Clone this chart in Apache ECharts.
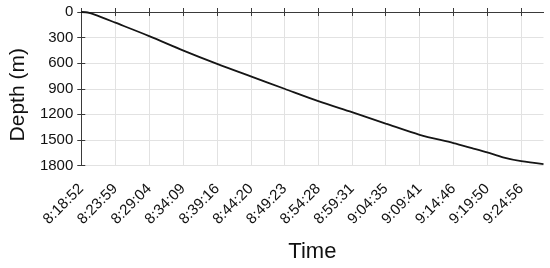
<!DOCTYPE html>
<html>
<head>
<meta charset="utf-8">
<script src="https://cdn.jsdelivr.net/npm/echarts@6/dist/echarts.min.js"></script>
<style>
  html, body { margin: 0; padding: 0; background: #fff; }
  #chart { width: 550px; height: 268px; }
</style>
</head>
<body>
<div id="chart"></div>
<script>
// tick labels on the time axis (clock time)
const tickLabels = ["8:18:52", "8:23:59", "8:29:04", "8:34:09", "8:39:16", "8:44:20", "8:49:23",
  "8:54:28", "8:59:31", "9:04:35", "9:09:41", "9:14:46", "9:19:50", "9:24:56"];
// elapsed seconds since 8:18:52 and depth (m)
const elapsed = [0, 40, 80, 120, 307, 612, 921, 1224, 1528, 1831, 2136, 2439, 2743, 3049, 3354, 3520, 3658, 3800, 3964, 4165];
const depth = [0, 3, 14, 30, 125, 282, 452, 608, 755, 900, 1045, 1175, 1308, 1440, 1537, 1596, 1646, 1704, 1750, 1785];

const startSec = 8 * 3600 + 18 * 60 + 52;
function toSec(s) {
  const p = s.split(":").map(Number);
  return p[0] * 3600 + p[1] * 60 + p[2] - startSec;
}
const tickSecs = tickLabels.map(toSec);
const labelMap = {};
tickSecs.forEach(function (v, i) { labelMap[v] = tickLabels[i]; });

const font = "Liberation Sans";
const frame = "#3a3a3a";
const gridColor = "#e2e2e2";

const chart = echarts.init(document.getElementById("chart"));
const option = {
  animation: false,
  textStyle: { fontFamily: font },
  grid: { left: 72.5, right: 6.5, top: 12, bottom: 102.5, containLabel: false },
  xAxis: [{
    type: "value",
    min: 0,
    max: 4165,
    name: "Time",
    nameLocation: "middle",
    nameGap: 75,
    nameTextStyle: { fontSize: 22, color: "#111", fontFamily: font },
    axisLine: { show: true, lineStyle: { color: frame, width: 1 } },
    axisTick: { show: true, inside: true, length: 4, customValues: tickSecs, lineStyle: { color: frame } },
    axisLabel: {
      customValues: tickSecs,
      rotate: 45,
      fontSize: 15,
      color: "#111",
      margin: 21,
      formatter: function (v) { return labelMap[v] || ""; }
    },
    splitLine: { show: true, lineStyle: { color: gridColor, width: 1 } }
  }, {
    type: "value",
    position: "top",
    min: 0,
    max: 4165,
    axisLine: { show: true, lineStyle: { color: frame, width: 1 } },
    axisTick: { show: true, inside: true, length: 4, customValues: tickSecs, lineStyle: { color: frame } },
    axisLabel: { show: false, customValues: tickSecs },
    splitLine: { show: false }
  }],
  yAxis: [{
    type: "value",
    inverse: true,
    min: 0,
    max: 1800,
    interval: 300,
    name: "Depth (m)",
    nameLocation: "middle",
    nameGap: 46,
    nameTextStyle: { fontSize: 21, color: "#111", fontFamily: font, padding: [0, 0, 0, -12] },
    axisLine: { show: true, lineStyle: { color: frame, width: 1 } },
    axisTick: { show: true, inside: true, length: 4, lineStyle: { color: frame } },
    axisLabel: { fontSize: 15, color: "#111", margin: 8, formatter: function (v) { return String(v); } },
    splitLine: { show: true, lineStyle: { color: gridColor, width: 1 } }
  }, {
    type: "value",
    position: "right",
    inverse: true,
    min: 0,
    max: 1800,
    interval: 300,
    axisLine: { show: true, lineStyle: { color: frame, width: 1 } },
    axisTick: { show: true, inside: true, length: 4, lineStyle: { color: frame } },
    axisLabel: { show: false },
    splitLine: { show: false }
  }],
  series: [{
    type: "line",
    xAxisIndex: 0,
    yAxisIndex: 0,
    data: elapsed.map(function (t, i) { return [t, depth[i]]; }),
    showSymbol: false,
    smooth: 0.3,
    lineStyle: { color: "#151515", width: 1.8 }
  }]
};
chart.setOption(option);
</script>
</body>
</html>
